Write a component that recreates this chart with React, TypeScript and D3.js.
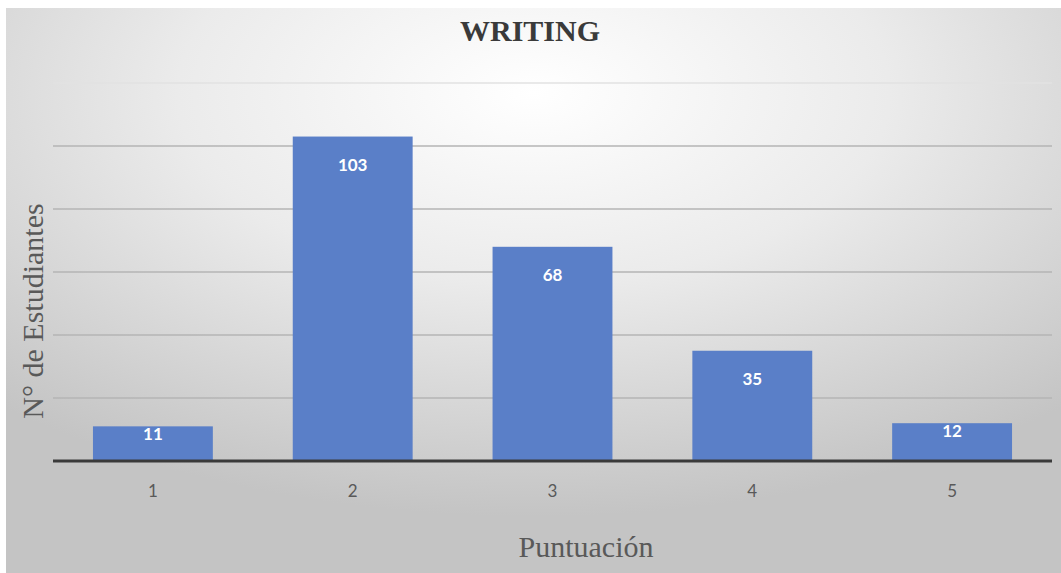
import React, { useEffect, useRef } from "react";
import * as d3 from "d3";

const categories = ["1", "2", "3", "4", "5"];
const values = [11, 103, 68, 35, 12];
const yTicks = [0, 20, 40, 60, 80, 100, 120];

const W = 1061;
const H = 573;

const App = () => {
  const svgRef = useRef<SVGSVGElement>(null);

  useEffect(() => {
    const MARGIN = { TOP: 83, BOTTOM: 112, LEFT: 53, RIGHT: 9 };
    const svg = d3.select(svgRef.current);
    svg.selectAll("*").remove();

    // background gradient
    const defs = svg.append("defs");
    const grad = defs
      .append("radialGradient")
      .attr("id", "bg")
      .attr("cx", "50%")
      .attr("cy", "15%")
      .attr("r", "75%");
    grad.append("stop").attr("offset", "0%").attr("stop-color", "#ffffff");
    grad.append("stop").attr("offset", "45%").attr("stop-color", "#ebebeb");
    grad.append("stop").attr("offset", "100%").attr("stop-color", "#c4c4c4");

    svg.append("rect").attr("width", W).attr("height", H).attr("fill", "#ffffff");
    svg
      .append("rect")
      .attr("x", 6)
      .attr("y", 8)
      .attr("width", W - 6)
      .attr("height", H - 8)
      .attr("fill", "url(#bg)");

    const x = d3
      .scaleBand()
      .domain(categories)
      .range([MARGIN.LEFT, W - MARGIN.RIGHT])
      .paddingInner(0.4)
      .paddingOuter(0.2);

    const y = d3
      .scaleLinear()
      .domain([0, 120])
      .range([H - MARGIN.BOTTOM, MARGIN.TOP]);

    // gridlines
    svg
      .append("g")
      .selectAll("line")
      .data(yTicks.filter((t) => t > 0))
      .enter()
      .append("line")
      .attr("x1", MARGIN.LEFT)
      .attr("x2", W - MARGIN.RIGHT)
      .attr("y1", (d) => y(d))
      .attr("y2", (d) => y(d))
      .attr("stroke", (d) => (d === 120 ? "#e2e2e2" : "#b4b4b4"))
      .attr("stroke-width", 1.5);

    // bars
    svg
      .append("g")
      .selectAll("rect")
      .data(values)
      .enter()
      .append("rect")
      .attr("x", (_, i) => x(categories[i]) || 0)
      .attr("y", (d) => y(d))
      .attr("width", x.bandwidth())
      .attr("height", (d) => y(0) - y(d))
      .attr("fill", "#5a7fc8");

    // value labels
    svg
      .append("g")
      .selectAll("text")
      .data(values)
      .enter()
      .append("text")
      .attr("x", (_, i) => (x(categories[i]) || 0) + x.bandwidth() / 2)
      .attr("y", (d) => (y(0) - y(d) > 60 ? y(d) + 30 : y(d) + 9))
      .attr("text-anchor", "middle")
      .attr("dominant-baseline", "middle")
      .attr("fill", "#ffffff")
      .attr("font-family", "Lato, 'Open Sans', sans-serif")
      .attr("font-weight", "bold")
      .attr("font-size", 17)
      .text((d) => d);

    // baseline
    svg
      .append("line")
      .attr("x1", MARGIN.LEFT)
      .attr("x2", W - MARGIN.RIGHT)
      .attr("y1", y(0))
      .attr("y2", y(0))
      .attr("stroke", "#3a3a3a")
      .attr("stroke-width", 3);

    // x tick labels
    svg
      .append("g")
      .selectAll("text")
      .data(categories)
      .enter()
      .append("text")
      .attr("x", (d) => (x(d) || 0) + x.bandwidth() / 2)
      .attr("y", y(0) + 32)
      .attr("text-anchor", "middle")
      .attr("dominant-baseline", "middle")
      .attr("fill", "#595959")
      .attr("font-family", "Lato, 'Open Sans', sans-serif")
      .attr("font-size", 17)
      .text((d) => d);

    // titles
    svg
      .append("text")
      .attr("x", 530)
      .attr("y", 41)
      .attr("text-anchor", "middle")
      .attr("fill", "#3a3a3a")
      .attr("font-family", "'Liberation Serif', serif")
      .attr("font-weight", "bold")
      .attr("font-size", 30)
      .text("WRITING");

    svg
      .append("text")
      .attr("x", 586)
      .attr("y", 557)
      .attr("text-anchor", "middle")
      .attr("fill", "#595959")
      .attr("font-family", "'Liberation Serif', serif")
      .attr("font-size", 30)
      .text("Puntuación");

    svg
      .append("text")
      .attr("transform", "translate(43, 311) rotate(-90)")
      .attr("text-anchor", "middle")
      .attr("fill", "#595959")
      .attr("font-family", "'Liberation Serif', serif")
      .attr("font-size", 30)
      .text("N° de Estudiantes");
  }, []);

  return (
    <svg
      ref={svgRef}
      width={W}
      height={H}
      style={{ position: "absolute", left: 0, top: 0 }}
    />
  );
};

export default App;
